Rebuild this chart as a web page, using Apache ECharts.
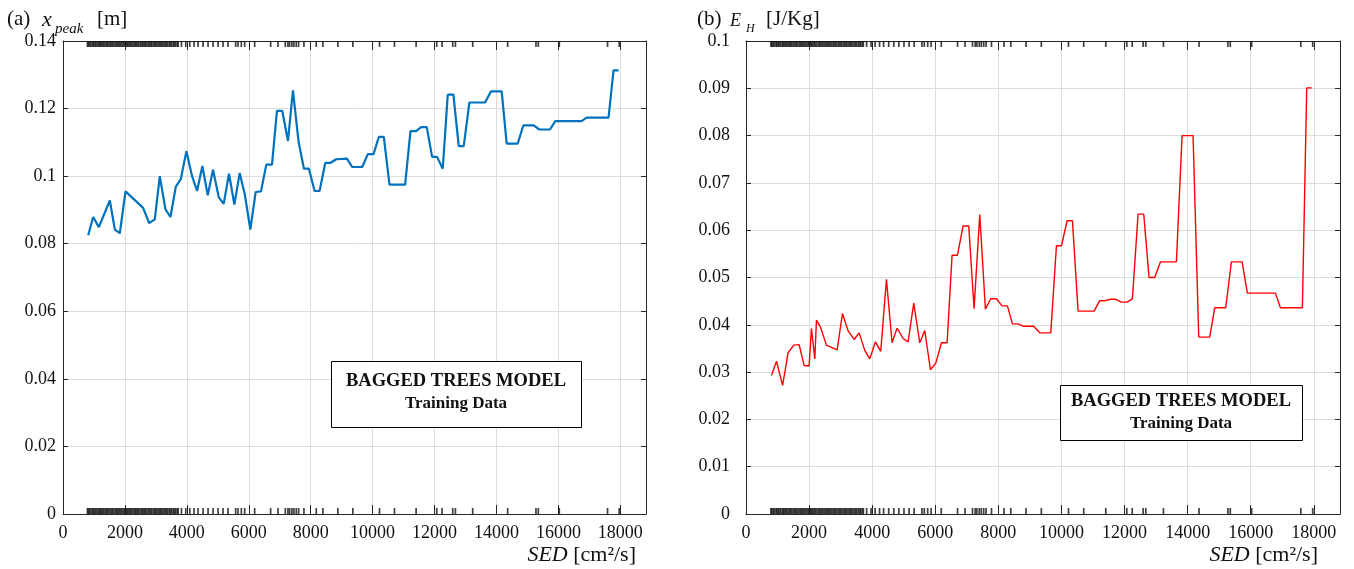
<!DOCTYPE html>
<html>
<head>
<meta charset="utf-8">
<script src="https://cdn.jsdelivr.net/npm/echarts@6/dist/echarts.min.js"></script>
<style>
html,body{margin:0;padding:0;background:#fff;}
#chart{width:1354px;height:569px;}
</style>
</head>
<body>
<div id="chart"></div>
<script>
// ---- data ----
const xTickLabels = ['0','2000','4000','6000','8000','10000','12000','14000','16000','18000'];
const yTickLabelsA = ['0','0.02','0.04','0.06','0.08','0.1','0.12','0.14'];
const yTickLabelsB = ['0','0.01','0.02','0.03','0.04','0.05','0.06','0.07','0.08','0.09','0.1'];

const sedA = [814, 975, 1158, 1513, 1674, 1835, 2018, 2588, 2782, 2965, 3126, 3309, 3470, 3642, 3803, 3986, 4169, 4330, 4502, 4674, 4846, 5029, 5190, 5362, 5535, 5706, 5868, 6051, 6223, 6395, 6567, 6750, 6911, 7083, 7266, 7427, 7610, 7782, 7943, 8126, 8287, 8470, 8631, 8825, 9169, 9341, 9664, 9846, 10029, 10201, 10362, 10545, 11050, 11223, 11405, 11566, 11749, 11921, 12082, 12265, 12427, 12610, 12782, 12943, 13126, 13631, 13825, 14169, 14330, 14685, 14868, 15201, 15384, 15728, 15900, 16749, 16911, 17620, 17782, 17943];
const xPeak = [0.0825, 0.0879, 0.0849, 0.0928, 0.0842, 0.0831, 0.0955, 0.0906, 0.0861, 0.0872, 0.1000, 0.0902, 0.0879, 0.0968, 0.0991, 0.1074, 0.1000, 0.0956, 0.1030, 0.0943, 0.1019, 0.0938, 0.0918, 0.1007, 0.0916, 0.1009, 0.0948, 0.0842, 0.0953, 0.0955, 0.1034, 0.1034, 0.1193, 0.1193, 0.1104, 0.1254, 0.1101, 0.1022, 0.1022, 0.0956, 0.0956, 0.1039, 0.1039, 0.1050, 0.1052, 0.1027, 0.1027, 0.1065, 0.1065, 0.1116, 0.1116, 0.0975, 0.0975, 0.1133, 0.1133, 0.1145, 0.1145, 0.1057, 0.1057, 0.1022, 0.1241, 0.1241, 0.1089, 0.1089, 0.1218, 0.1218, 0.1251, 0.1251, 0.1096, 0.1096, 0.1150, 0.1150, 0.1138, 0.1138, 0.1163, 0.1163, 0.1173, 0.1173, 0.1313, 0.1313];

const sedB = [807, 966, 1160, 1335, 1515, 1684, 1843, 2001, 2075, 2181, 2234, 2361, 2551, 2889, 3058, 3238, 3428, 3586, 3765, 3924, 4103, 4272, 4452, 4631, 4790, 4980, 5139, 5318, 5509, 5667, 5847, 6016, 6196, 6375, 6533, 6702, 6882, 7061, 7230, 7410, 7590, 7759, 7939, 8118, 8287, 8446, 8625, 8784, 9122, 9312, 9661, 9841, 9999, 10179, 10348, 10527, 11034, 11214, 11372, 11563, 11721, 11901, 12080, 12249, 12429, 12608, 12777, 12957, 13137, 13644, 13824, 14172, 14352, 14700, 14859, 15208, 15388, 15726, 15894, 16782, 16941, 17638, 17775, 17934];
const eH = [0.0293, 0.0323, 0.0272, 0.0341, 0.0357, 0.0358, 0.0314, 0.0313, 0.0392, 0.0328, 0.0410, 0.0395, 0.0357, 0.0347, 0.0424, 0.0387, 0.0369, 0.0383, 0.0346, 0.0328, 0.0364, 0.0344, 0.0496, 0.0362, 0.0393, 0.0371, 0.0364, 0.0446, 0.0362, 0.0388, 0.0305, 0.0319, 0.0362, 0.0362, 0.0547, 0.0547, 0.0609, 0.0609, 0.0434, 0.0633, 0.0433, 0.0455, 0.0455, 0.0440, 0.0440, 0.0402, 0.0402, 0.0397, 0.0397, 0.0383, 0.0383, 0.0567, 0.0567, 0.0620, 0.0620, 0.0429, 0.0429, 0.0451, 0.0451, 0.0454, 0.0454, 0.0448, 0.0448, 0.0455, 0.0634, 0.0634, 0.0500, 0.0500, 0.0533, 0.0533, 0.0800, 0.0800, 0.0374, 0.0374, 0.0436, 0.0436, 0.0533, 0.0533, 0.0467, 0.0467, 0.0436, 0.0436, 0.0901, 0.0901];

// training-data rug (SED values)
const sedRug = [790, 820, 860, 900, 950, 980, 1020, 1060, 1100, 1150, 1180, 1220, 1260, 1300, 1340, 1390, 1420, 1460, 1510, 1550, 1590, 1630, 1680, 1720, 1760, 1800, 1840, 1880, 1930, 1970, 2010, 2050, 2080, 2120, 2160, 2200, 2240, 2290, 2330, 2370, 2410, 2450, 2500, 2540, 2580, 2620, 2660, 2700, 2750, 2790, 2830, 2870, 2920, 2960, 3000, 3040, 3090, 3130, 3170, 3210, 3260, 3300, 3340, 3380, 3430, 3470, 3510, 3560, 3600, 3640, 3690, 3720, 3825, 3965, 4094, 4233, 4362, 4524, 4685, 4846, 5008, 5169, 5330, 5577, 5652, 5760, 5868, 6190, 6706, 6943, 7180, 7265, 7319, 7394, 7459, 7535, 7610, 7782, 8180, 8394, 8878, 9362, 10223, 10706, 11405, 12071, 12244, 12588, 12674, 13233, 14362, 15276, 15352, 16029, 17588, 17965];

// ---- chart ----
const SERIF = '"Liberation Serif", "Times New Roman", serif';
const AX = '#262626';
const xMin = 0, xMax = 18830, xStep = 2000;
const yMaxA = 0.14, yStepA = 0.02, yMaxB = 0.1, yStepB = 0.01;

function bottomX(grid){
  return {type:'value', gridIndex:grid, position:'bottom', min:xMin, max:xMax, interval:xStep,
    axisLine:{show:true, onZero:false, lineStyle:{color:AX, width:1}},
    axisTick:{show:true, inside:true, length:9, lineStyle:{color:AX}},
    axisLabel:{show:true, margin:10, color:'#111', fontFamily:SERIF, fontSize:18,
      formatter:(v)=>{const i = xTickLabels.indexOf(String(Math.round(v))); return i>=0 && Math.abs(v - Math.round(v))<1e-6 ? xTickLabels[i] : '';}},
    splitLine:{show:true, lineStyle:{color:'#dddddd', width:1}}};
}
function topX(grid){
  return {type:'value', gridIndex:grid, position:'top', min:xMin, max:xMax, interval:xStep,
    axisLine:{show:true, onZero:false, lineStyle:{color:AX, width:1}},
    axisTick:{show:true, inside:true, length:9, lineStyle:{color:AX}},
    axisLabel:{show:false}, splitLine:{show:false}};
}
function leftY(grid, max, step, labels, margin){
  return {type:'value', gridIndex:grid, position:'left', min:0, max:max, interval:step,
    axisLine:{show:true, onZero:false, lineStyle:{color:AX, width:1}},
    axisTick:{show:true, inside:true, length:5, lineStyle:{color:AX}},
    axisLabel:{show:true, margin:margin, color:'#111', fontFamily:SERIF, fontSize:18,
      formatter:(v)=>{const i = Math.round(v/step); return labels[i] !== undefined ? labels[i] : '';}},
    splitLine:{show:true, lineStyle:{color:'#dddddd', width:1}}};
}
function rightY(grid, max, step){
  return {type:'value', gridIndex:grid, position:'right', min:0, max:max, interval:step,
    axisLine:{show:true, onZero:false, lineStyle:{color:AX, width:1}},
    axisTick:{show:true, inside:true, length:5, lineStyle:{color:AX}},
    axisLabel:{show:false}, splitLine:{show:false}};
}
function rug(xi, yi, yval, off){
  return {type:'scatter', xAxisIndex:xi, yAxisIndex:yi, silent:true, z:3,
    symbol:'rect', symbolSize:[1.7,6], symbolOffset:[0, off],
    itemStyle:{color:'#111'}, data: sedRug.map(x=>[x, yval])};
}

const chart = echarts.init(document.getElementById('chart'), null, {renderer:'canvas'});
const nameRich = {i:{font:'italic 22px '+SERIF, fill:'#111'}};
chart.setOption({
  animation:false,
  backgroundColor:'#ffffff',
  grid:[
    {left:63, right:1354-646, top:41, bottom:569-514, containLabel:false},
    {left:746, right:1354-1340, top:41, bottom:569-514, containLabel:false}
  ],
  xAxis:[bottomX(0), topX(0), bottomX(1), topX(1)],
  yAxis:[leftY(0, yMaxA, yStepA, yTickLabelsA, 7), rightY(0, yMaxA, yStepA),
         leftY(1, yMaxB, yStepB, yTickLabelsB, 16), rightY(1, yMaxB, yStepB)],
  series:[
    rug(0,0,0,-3), rug(0,0,yMaxA,3),
    rug(2,2,0,-3), rug(2,2,yMaxB,3),
    {type:'line', xAxisIndex:0, yAxisIndex:0, showSymbol:false, z:5,
     lineStyle:{color:'#0072BD', width:2.2}, data: sedA.map((x,i)=>[x, xPeak[i]])},
    {type:'line', xAxisIndex:2, yAxisIndex:2, showSymbol:false, z:5,
     lineStyle:{color:'#FF0000', width:1.4}, data: sedB.map((x,i)=>[x, eH[i]])}
  ],
  graphic:[
    // panel (a) title
    {type:'text', x:7, y:19, style:{text:'(a)', font:'21px '+SERIF, fill:'#111', verticalAlign:'middle'}},
    {type:'text', x:42, y:20, style:{text:'x', font:'italic 22px '+SERIF, fill:'#111', verticalAlign:'middle'}},
    {type:'text', x:55, y:29, style:{text:'peak', font:'italic 15px '+SERIF, fill:'#111', verticalAlign:'middle'}},
    {type:'text', x:97, y:19, style:{text:'[m]', font:'21px '+SERIF, fill:'#111', verticalAlign:'middle'}},
    // panel (b) title
    {type:'text', x:730, y:21, style:{text:'E', font:'italic 18px '+SERIF, fill:'#111', verticalAlign:'middle'}},
    {type:'text', x:697, y:19, style:{text:'(b)', font:'21px '+SERIF, fill:'#111', verticalAlign:'middle'}},
    {type:'text', x:746, y:29, style:{text:'H', font:'italic 12px '+SERIF, fill:'#111', verticalAlign:'middle'}},
    {type:'text', x:766, y:19, style:{text:'[J/Kg]', font:'21px '+SERIF, fill:'#111', verticalAlign:'middle'}},
    // x axis names
    {type:'text', x:636, y:555, style:{text:'{i|SED} [cm²/s]', font:'22px '+SERIF, fill:'#111', align:'right', verticalAlign:'middle', rich:nameRich}},
    {type:'text', x:1318, y:555, style:{text:'{i|SED} [cm²/s]', font:'22px '+SERIF, fill:'#111', align:'right', verticalAlign:'middle', rich:nameRich}},
    // annotation boxes
    {type:'rect', shape:{x:331.5, y:361.5, width:250, height:66}, style:{fill:'#fff', stroke:'#000', lineWidth:1}, z:10},
    {type:'text', x:456, y:381, z:11, style:{text:'BAGGED TREES MODEL', font:'bold 18.5px '+SERIF, fill:'#111', align:'center', verticalAlign:'middle'}},
    {type:'text', x:456, y:404, z:11, style:{text:'Training Data', font:'bold 17px '+SERIF, fill:'#111', align:'center', verticalAlign:'middle'}},
    {type:'rect', shape:{x:1060.5, y:385.5, width:242, height:55}, style:{fill:'#fff', stroke:'#000', lineWidth:1}, z:10},
    {type:'text', x:1181, y:401, z:11, style:{text:'BAGGED TREES MODEL', font:'bold 18.5px '+SERIF, fill:'#111', align:'center', verticalAlign:'middle'}},
    {type:'text', x:1181, y:424, z:11, style:{text:'Training Data', font:'bold 17px '+SERIF, fill:'#111', align:'center', verticalAlign:'middle'}}
  ]
});
</script>
</body>
</html>
